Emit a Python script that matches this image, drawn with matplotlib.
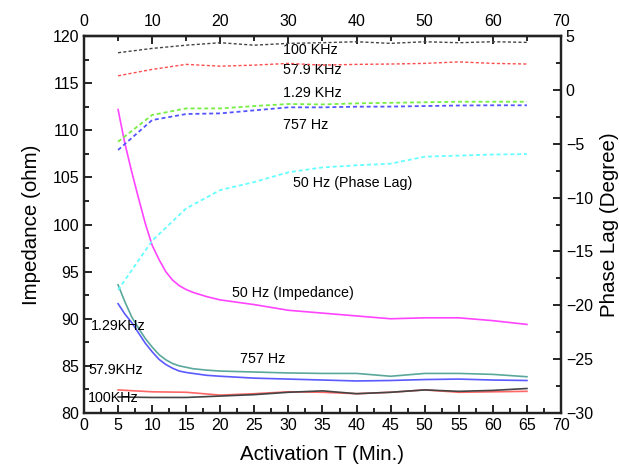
import matplotlib.pyplot as plt
from matplotlib.ticker import MultipleLocator

plt.rcParams["font.family"] = ["Liberation Sans", "DejaVu Sans"]

# impedance (left axis), solid lines
t_fine = [5, 6, 7, 8, 9, 10, 11, 12, 13, 14, 15, 16, 18, 20, 25, 30, 35, 40, 45, 50, 55, 60, 65]
imp_50hz = [112.2, 108.6, 105.6, 102.8, 100.1, 97.8, 96.3, 95.0, 94.1, 93.5, 93.1, 92.8,
            92.35, 92.0, 91.5, 90.9, 90.6, 90.3, 90.0, 90.1, 90.1, 89.8, 89.4]
imp_1k29 = [93.6, 91.8, 90.2, 89.0, 87.9, 87.0, 86.2, 85.65, 85.25, 85.0, 84.85, 84.7,
            84.55, 84.45, 84.35, 84.25, 84.2, 84.2, 83.9, 84.2, 84.2, 84.1, 83.85]
imp_757 = [91.6, 90.5, 89.6, 88.5, 87.4, 86.5, 85.7, 85.15, 84.75, 84.45, 84.3, 84.2,
           84.0, 83.9, 83.7, 83.6, 83.5, 83.4, 83.45, 83.55, 83.6, 83.5, 83.45]

t = [5, 10, 15, 20, 25, 30, 35, 40, 45, 50, 55, 60, 65]
imp_57k9 = [82.45, 82.25, 82.2, 81.9, 82.05, 82.25, 82.2, 82.05, 82.2, 82.45, 82.2, 82.25, 82.3]
imp_100k = [81.7, 81.65, 81.65, 81.8, 81.95, 82.2, 82.35, 82.05, 82.2, 82.45, 82.3, 82.4, 82.6]

# phase lag (right axis), dashed lines
ph_100k = [3.45, 3.85, 4.15, 4.38, 4.15, 4.32, 4.38, 4.47, 4.32, 4.47, 4.38, 4.47, 4.41]
ph_57k9 = [1.31, 1.9, 2.37, 2.2, 2.3, 2.46, 2.3, 2.37, 2.4, 2.46, 2.6, 2.46, 2.4]
ph_1k29 = [-4.81, -2.33, -1.72, -1.72, -1.5, -1.31, -1.35, -1.25, -1.2, -1.15, -1.1, -1.1, -1.1]
ph_757 = [-5.58, -2.8, -2.24, -2.18, -1.9, -1.62, -1.62, -1.56, -1.55, -1.5, -1.45, -1.43, -1.43]
ph_50hz = [-18.58, -14.0, -11.0, -9.3, -8.55, -7.65, -7.2, -7.0, -6.85, -6.2, -6.1, -6.0, -5.96]

fig = plt.figure(figsize=(6.19, 4.68), dpi=100)
ax = fig.add_axes([0.1357, 0.1175, 0.7706, 0.8055])
ax2 = ax.twinx()

# solid impedance curves
ax.plot(t_fine, imp_50hz, color="#ff44ff", lw=1.2)
ax.plot(t_fine, imp_1k29, color="#5aa89c", lw=1.2)
ax.plot(t_fine, imp_757, color="#5a5aff", lw=1.2)
ax.plot(t, imp_57k9, color="#ff6666", lw=1.2)
ax.plot(t, imp_100k, color="#444444", lw=1.2)

# dashed phase curves
dash = (0, (2.2, 1.6))
ax2.plot(t, ph_100k, color="#444444", lw=1.0, linestyle=dash)
ax2.plot(t, ph_57k9, color="#ff4d4d", lw=1.0, linestyle=dash)
ax2.plot(t, ph_1k29, color="#77ee44", lw=1.3, linestyle=dash)
ax2.plot(t, ph_757, color="#5555ff", lw=1.3, linestyle=dash)
ax2.plot(t, ph_50hz, color="#66ffff", lw=1.3, linestyle=dash)

ax.set_xlim(0, 70)
ax.set_ylim(80, 120)
ax2.set_ylim(-30, 5)

ax.xaxis.set_major_locator(MultipleLocator(5))
ax.xaxis.set_minor_locator(MultipleLocator(2.5))
ax.yaxis.set_major_locator(MultipleLocator(5))
ax.yaxis.set_minor_locator(MultipleLocator(2.5))
ax2.yaxis.set_major_locator(MultipleLocator(5))
ax2.yaxis.set_minor_locator(MultipleLocator(2.5))

# top axis with its own ticks
top = ax.secondary_xaxis("top")
top.xaxis.set_major_locator(MultipleLocator(10))
top.xaxis.set_minor_locator(MultipleLocator(5))
top.tick_params(which="major", direction="in", length=6, width=1.2, labelsize=11.5, pad=5)
top.tick_params(which="minor", direction="in", length=3.5, width=1.2)
top.spines["top"].set_linewidth(1.6)

for a in (ax, ax2):
    a.tick_params(which="major", direction="in", length=6, width=1.2, labelsize=11.5)
    a.tick_params(which="minor", direction="in", length=3.5, width=1.2)
    for s in a.spines.values():
        s.set_linewidth(1.6)
        s.set_color("#222222")
ax.tick_params(axis="x", which="both", top=False)

ax.set_xlabel("Activation T (Min.)", fontsize=14.8, labelpad=9)
ax.set_ylabel("Impedance (ohm)", fontsize=14.8, labelpad=8)
ax2.set_ylabel("Phase Lag (Degree)", fontsize=14.8, labelpad=5)

# curve labels
fs = 10.3
ax.text(29.2, 118.5, "100 KHz", fontsize=fs, va="center")
ax.text(29.2, 116.4, "57.9 KHz", fontsize=fs, va="center")
ax.text(29.2, 114.0, "1.29 KHz", fontsize=fs, va="center")
ax.text(29.2, 110.55, "757 Hz", fontsize=fs, va="center")
ax.text(30.7, 104.4, "50 Hz (Phase Lag)", fontsize=fs, va="center")
ax.text(21.7, 92.7, "50 Hz (Impedance)", fontsize=fs, va="center")
ax.text(22.9, 85.7, "757 Hz", fontsize=fs, va="center")
ax.text(1.0, 89.2, "1.29KHz", fontsize=fs, va="center")
ax.text(0.6, 84.55, "57.9KHz", fontsize=fs, va="center")
ax.text(0.5, 81.55, "100KHz", fontsize=fs, va="center")

fig.savefig("out.png", dpi=100)
